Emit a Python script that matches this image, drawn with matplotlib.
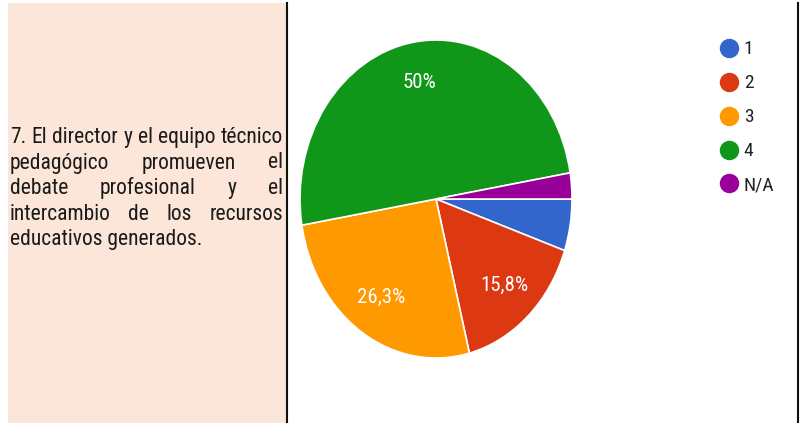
import matplotlib.pyplot as plt
from matplotlib.lines import Line2D
from matplotlib.patches import Rectangle

categories = ["1", "2", "3", "4", "N/A"]
counts = [2, 6, 10, 19, 1]
colors = ["#3366cc", "#dc3912", "#ff9900", "#109618", "#990099"]

question_lines = [
    "7. El director y el equipo técnico",
    "pedagógico promueven el",
    "debate profesional y el",
    "intercambio de los recursos",
    "educativos generados.",
]

W, H = 800, 423
fig = plt.figure(figsize=(W / 100, H / 100), dpi=100)
fig.patch.set_facecolor("white")

# the screenshot is squeezed sideways, so a condensed face reads closest
FAM = ["Roboto Condensed", "DejaVu Sans"]


def px(x, y):
    # pixel coords (top-left origin) -> figure fraction
    return x / W, 1 - y / H


# left peach panel and the black separators
fig.patches.append(Rectangle((8 / W, 0), (287 - 8) / W, 1 - 3 / H,
                             transform=fig.transFigure, facecolor="#fce6d9",
                             edgecolor="none", zorder=0))
for xl in (287, 798):
    fig.add_artist(Line2D([xl / W, xl / W], [0, 1 - 3 / H], transform=fig.transFigure,
                          color="#111111", lw=1.5))

# justified question text, first line fills the column
left, right = 10, 283
font = dict(family=FAM, color="#1a1a1a")
renderer = fig.canvas.get_renderer()
probe = fig.text(0, 0, question_lines[0], fontsize=14, **font)
fsize = min(16.5, 14 * (right - left) / probe.get_window_extent(renderer).width)
probe.remove()

baselines = [143, 168.5, 194, 219.5, 245]
for i, (line, yb) in enumerate(zip(question_lines, baselines)):
    words = line.split()
    if i == len(question_lines) - 1:
        fig.text(*px(left, yb), line, fontsize=fsize, va="baseline", ha="left", **font)
        continue
    arts = [fig.text(0, 0, w, fontsize=fsize, va="baseline", ha="left", **font) for w in words]
    widths = [a.get_window_extent(renderer).width for a in arts]
    gap = (right - left - sum(widths)) / (len(words) - 1)
    x = left
    for a, wd in zip(arts, widths):
        a.set_position(px(x, yb))
        x += wd + gap

# pie (slightly elliptical, as in the source screenshot)
cx, cy, rx, ry = 436, 199, 136, 159
ax = fig.add_axes([(cx - rx) / W, 1 - (cy + ry) / H, 2 * rx / W, 2 * ry / H])


def fmt(p):
    if p < 10:
        return ""
    s = f"{p:.1f}".rstrip("0").rstrip(".")
    return s.replace(".", ",") + "%"


wedges, _, autotexts = ax.pie(counts, colors=colors, startangle=0, counterclock=False,
                              autopct=fmt, pctdistance=0.74, radius=1,
                              wedgeprops=dict(edgecolor="white", linewidth=1.2))
for t in autotexts:
    t.set_color("white")
    t.set_fontsize(15)
    t.set_fontfamily(FAM)
ax.set_aspect("auto")
ax.set_xlim(-1, 1)
ax.set_ylim(-1, 1)
ax.axis("off")

# legend
handles = [Line2D([], [], marker="o", linestyle="none", markersize=13,
                  markerfacecolor=c, markeredgecolor=c) for c in colors]
fig.legend(handles, categories, loc="upper left", bbox_to_anchor=px(701, 23),
           frameon=False, handletextpad=0.2, labelspacing=0.82,
           prop=dict(family=FAM, size=14),
           labelcolor="#222222", handlelength=1.1)

fig.savefig("out.png", dpi=100)
